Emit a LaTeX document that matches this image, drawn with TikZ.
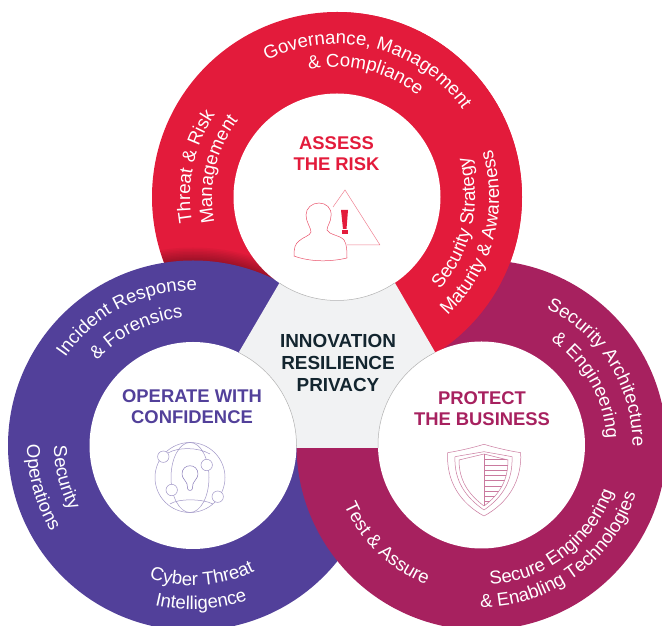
\documentclass[tikz,border=0pt]{standalone}
\usepackage{fontspec}
\setmainfont{Liberation Sans}
\usetikzlibrary{decorations.text}
\definecolor{cred}{HTML}{E31B3B}
\definecolor{cblue}{HTML}{52409A}
\definecolor{cmag}{HTML}{A7215F}
\definecolor{cgray}{HTML}{F1F2F3}
\definecolor{cdark}{HTML}{13252F}
\newcommand{\ringfont}{\fontsize{18.6}{20}\selectfont}
\tikzset{
  x=1pt,y=1pt,
  headline/.style={font=\fontsize{18.4}{21}\selectfont\bfseries,align=center,inner sep=0pt},
  ringtext/.style={decorate,decoration={text along path,text align={center},text={|\ringfont\color{white}|#1}}},
  icon/.style={line width=0.5pt},
}
\begin{document}
\begin{tikzpicture}
\useasboundingbox (0,0) rectangle (662,626);
\fill[white] (0,0) rectangle (662,626);
\coordinate (R) at (337,429);
\coordinate (B) at (193,180.5);
\coordinate (M) at (481.5,181);
\fill[cred] (R) circle (185);
\begin{scope}
\clip (R) circle (185);
\foreach \rr in {186,187.5,...,198}
  \fill[black,opacity=0.035] (B) circle (\rr);
\end{scope}
\fill[cblue] (B) circle (185);
\fill[cmag] (M) circle (185);
\begin{scope}
\clip (337,0) rectangle (662,626);
\fill[cred] (R) circle (185);
\end{scope}
\fill[cgray] (280,344)--(395,343)--(435,274)--(380,178)--(296,178)--(239,274)--cycle;
\fill[white] (R) circle (103.5);
\fill[white] (B) circle (103.5);
\fill[white] (M) circle (103.5);
\begin{scope}
\clip (280,344)--(395,343)--(435,274)--(380,178)--(296,178)--(239,274)--cycle;
\draw[black!30,line width=0.5pt] (R) circle (103.5) (B) circle (103.5) (M) circle (103.5);
\end{scope}
% headings
\node[headline,text=cred] (h1) at (336.5,472) {ASSESS\\THE RISK};
\node[headline,text=cblue] (h2) at (192,219) {OPERATE WITH\\CONFIDENCE};
\node[headline,text=cmag] (h3) at (482,217) {PROTECT\\THE BUSINESS};
\node[headline,text=cdark,font=\fontsize{18.9}{22}\selectfont\bfseries] (h4) at (338,263) {INNOVATION\\RESILIENCE\\PRIVACY};
% ring texts
\path[ringtext={Governance, Management}] ([shift={(126:153)}]R) arc[start angle=126,end angle=26,radius=153];
\path[ringtext={{\&} Compliance}] ([shift={(107:130)}]R) arc[start angle=107,end angle=47,radius=130];
\path[ringtext={Threat {\&} Risk}] ([shift={(198:147)}]R) arc[start angle=198,end angle=138,radius=147];
\path[ringtext={Management}] ([shift={(197:125)}]R) arc[start angle=197,end angle=137,radius=125];
\path[ringtext={Security Strategy}] ([shift={(-47:138)}]R) arc[start angle=-47,end angle=22,radius=138];
\path[ringtext={Maturity {\&} Awareness}] ([shift={(-53:162)}]R) arc[start angle=-53,end angle=23,radius=162];
\path[ringtext={Incident Response}] ([shift={(152:155)}]B) arc[start angle=152,end angle=82,radius=155];
\path[ringtext={{\&} Forensics}] ([shift={(146:128)}]B) arc[start angle=146,end angle=87,radius=128];
\path[ringtext={Security}] ([shift={(174:139)}]B) arc[start angle=174,end angle=214,radius=139];
\path[ringtext={Operations}] ([shift={(175:166)}]B) arc[start angle=175,end angle=216,radius=166];
\path[ringtext={Cyber Threat}] ([shift={(244:140)}]B) arc[start angle=244,end angle=304,radius=140];
\path[ringtext={Intelligence}] ([shift={(251:164)}]B) arc[start angle=251,end angle=295,radius=164];
\path[ringtext={Security Architecture}] ([shift={(72:151)}]M) arc[start angle=72,end angle=-8,radius=151];
\path[ringtext={{\&} Engineering}] ([shift={(65:125)}]M) arc[start angle=65,end angle=-6,radius=125];
\path[ringtext={Test {\&} Assure}] ([shift={(196:150)}]M) arc[start angle=196,end angle=256,radius=150];
\path[ringtext={Secure Engineering}] ([shift={(264:140)}]M) arc[start angle=264,end angle=350,radius=140];
\path[ringtext={{\&} Enabling Technologies}] ([shift={(261:162)}]M) arc[start angle=261,end angle=351,radius=162];
% risk icon
\draw[cred!55,icon,line join=round] (333,419)--(345,436)--(380,381)--(347,381);
\fill[cred] (341,416)--(348,416)--(346.5,397)--(343,397)--cycle;
\fill[cred] (341.5,392) rectangle (347.5,396);
\draw[cred!75,icon] (319,423) .. controls (326,423) and (332,418) .. (331,410)
  .. controls (331,404) and (327,400) .. (327,396)
  .. controls (329,391) and (340,391) .. (344,386)
  .. controls (347,382) and (347,374) .. (347,368)
  .. controls (330,364) and (310,364) .. (294,370)
  .. controls (294,378) and (295,382) .. (299,385)
  .. controls (303,389) and (310,390) .. (311,394)
  .. controls (311,398) and (306,404) .. (306,411)
  .. controls (306,418) and (312,423) .. (319,423) -- cycle;
% globe icon
\begin{scope}[cblue!55,icon]
\draw (190,148.5) circle (35);
\draw (190,148.5) ellipse (19 and 35);
\draw (168,173) .. controls (178,179) and (198,179) .. (210,172);
\draw (170,122) .. controls (178,127.5) and (202,127.5) .. (213,122);
\draw[fill=white] (163.3,169.3) circle (5.7);
\draw[fill=white] (206.7,161) circle (5.7);
\draw[fill=white] (171.7,136) circle (5.7);
\draw[fill=white] (217.7,129.3) circle (5.7);
\draw[cblue!70,line join=round] (190,135.5) .. controls (187,135.5) and (187.5,139) .. (187,142)
  .. controls (186,145) and (182,148) .. (182,152)
  .. controls (182,163) and (198,163) .. (198,152)
  .. controls (198,148) and (194,145) .. (193,142)
  .. controls (192.5,139) and (193,135.5) .. (190,135.5) -- cycle;
\end{scope}
% shield icon
\begin{scope}[cmag!60,icon,line join=round]
\draw (484,181.7) .. controls (472,178) and (458,175) .. (447.7,173.3)
  .. controls (446,145) and (460,123) .. (484,110)
  .. controls (508,123) and (522,145) .. (520.7,173.3)
  .. controls (510,175) and (496,178) .. (484,181.7) -- cycle;
\draw (484,174.3) .. controls (474,172.5) and (464,171) .. (455,169.3)
  .. controls (454,146) and (465,129) .. (484,116)
  .. controls (503,129) and (513,146) .. (512,169.3)
  .. controls (503,171) and (494,172.5) .. (484,174.3) -- cycle;
\draw (484,172) .. controls (476,170) and (467,168) .. (459,166)
  .. controls (459,146) and (468,132) .. (484,120);
\draw (484,172) -- (484,120);
\begin{scope}
\clip (484,172) .. controls (492,170) and (500,168) .. (508,166)
  .. controls (508,146) and (500,132) .. (484,120) -- cycle;
\foreach \yy in {166.7,161,156,150.3,145.3,140,134.3,129.3,124.3}
  \draw (484,\yy) -- (512,\yy);
\end{scope}
\draw (484,172) .. controls (492,170) and (500,168) .. (508,166)
  .. controls (508,146) and (500,132) .. (484,120);
\end{scope}
\end{tikzpicture}
\end{document}
